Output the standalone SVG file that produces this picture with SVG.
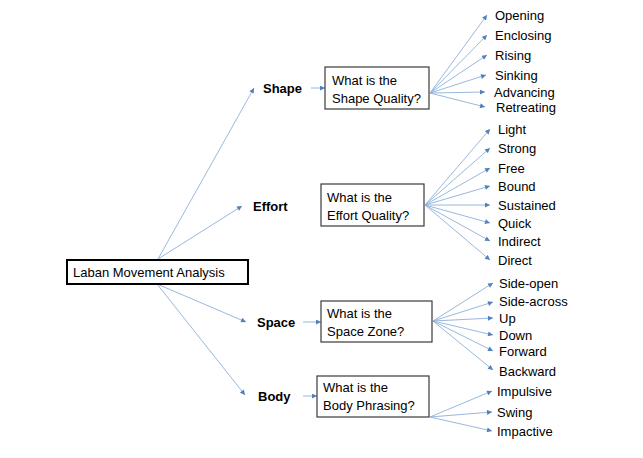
<svg xmlns="http://www.w3.org/2000/svg" width="643" height="458" viewBox="0 0 643 458">
<defs>
<marker id="ah" viewBox="0 0 10 10" refX="10" refY="5" markerWidth="6" markerHeight="5" markerUnits="userSpaceOnUse" orient="auto">
<path d="M0,0 L10,5 L0,10 z" fill="#4f81bd"/>
</marker>
<style>
.c line{stroke:#8db0da;stroke-width:0.9;fill:none;marker-end:url(#ah)}
text{font-family:"Liberation Sans",Arial,sans-serif;font-size:13px;fill:#000}
.b{font-weight:bold}
.box{fill:#fff;stroke:#3a3a3a;stroke-width:1.2}
.main{fill:#fff;stroke:#000;stroke-width:2}
</style>
</defs>
<rect width="643" height="458" fill="#fff"/>
<g class="c" id="connectors">
<line x1="158" y1="259" x2="254" y2="88"/>
<line x1="158" y1="259" x2="242" y2="206"/>
<line x1="157" y1="284" x2="246" y2="322"/>
<line x1="157" y1="284" x2="245" y2="395"/>
<line x1="311" y1="88" x2="325" y2="88"/>
<line x1="303" y1="322" x2="321" y2="322"/>
<line x1="303" y1="396" x2="317" y2="396"/>
<line x1="430" y1="93" x2="487" y2="15"/>
<line x1="430" y1="93" x2="487" y2="35"/>
<line x1="430" y1="93" x2="487" y2="55"/>
<line x1="430" y1="93" x2="486" y2="75"/>
<line x1="430" y1="93" x2="485" y2="92"/>
<line x1="430" y1="93" x2="485" y2="107"/>
<line x1="425" y1="205" x2="490" y2="129"/>
<line x1="425" y1="205" x2="490" y2="148"/>
<line x1="425" y1="205" x2="490" y2="168"/>
<line x1="425" y1="205" x2="490" y2="186"/>
<line x1="425" y1="205" x2="490" y2="205"/>
<line x1="425" y1="205" x2="490" y2="223"/>
<line x1="425" y1="205" x2="490" y2="241"/>
<line x1="425" y1="205" x2="490" y2="260"/>
<line x1="433" y1="321" x2="493" y2="283"/>
<line x1="433" y1="321" x2="493" y2="302"/>
<line x1="433" y1="321" x2="493" y2="318"/>
<line x1="433" y1="321" x2="493" y2="335"/>
<line x1="433" y1="321" x2="493" y2="351"/>
<line x1="433" y1="321" x2="493" y2="370"/>
<line x1="430" y1="417" x2="492" y2="391"/>
<line x1="430" y1="417" x2="492" y2="412"/>
<line x1="430" y1="417" x2="492" y2="431"/>
</g>
<g id="lma">
<rect class="main" x="67" y="260" width="181" height="24"/>
<text x="73" y="277">Laban Movement Analysis</text>
</g>
<g id="shape"><text class="b" x="263" y="93">Shape</text></g>
<g id="effort"><text class="b" x="253" y="211">Effort</text></g>
<g id="space"><text class="b" x="257" y="327">Space</text></g>
<g id="body"><text class="b" x="258" y="401">Body</text></g>
<g id="shape-q">
<rect class="box" x="325" y="67" width="104" height="42"/>
<text x="332" y="85">What is the</text>
<text x="332" y="103">Shape Quality?</text>
</g>
<g id="effort-q">
<rect class="box" x="321" y="184" width="103" height="42"/>
<text x="327" y="202">What is the</text>
<text x="327" y="220">Effort Quality?</text>
</g>
<g id="space-q">
<rect class="box" x="321" y="301" width="111" height="41"/>
<text x="327" y="318">What is the</text>
<text x="327" y="336">Space Zone?</text>
</g>
<g id="body-q">
<rect class="box" x="317" y="376" width="112" height="41"/>
<text x="323" y="392">What is the</text>
<text x="323" y="410">Body Phrasing?</text>
</g>
<g id="shape-items">
<text x="495" y="20">Opening</text>
<text x="495" y="40">Enclosing</text>
<text x="495" y="60">Rising</text>
<text x="495" y="80">Sinking</text>
<text x="494" y="97">Advancing</text>
<text x="496" y="112">Retreating</text>
</g>
<g id="effort-items">
<text x="498" y="134">Light</text>
<text x="498" y="153">Strong</text>
<text x="498" y="173">Free</text>
<text x="498" y="191">Bound</text>
<text x="498" y="210">Sustained</text>
<text x="498" y="228">Quick</text>
<text x="498" y="246">Indirect</text>
<text x="498" y="265">Direct</text>
</g>
<g id="space-items">
<text x="499" y="288">Side-open</text>
<text x="499" y="306">Side-across</text>
<text x="499" y="323">Up</text>
<text x="499" y="340">Down</text>
<text x="499" y="356">Forward</text>
<text x="499" y="376">Backward</text>
</g>
<g id="body-items">
<text x="497" y="396">Impulsive</text>
<text x="497" y="417">Swing</text>
<text x="497" y="436">Impactive</text>
</g>
</svg>
